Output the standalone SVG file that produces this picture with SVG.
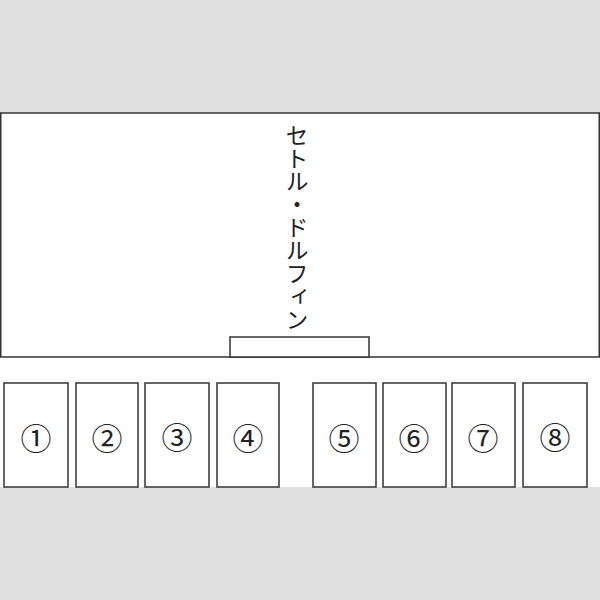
<svg xmlns="http://www.w3.org/2000/svg" width="600" height="600" viewBox="0 0 600 600">
<style>
.box{fill:#fff;stroke:#333;stroke-width:1.5}
.num{font-family:"Noto Sans CJK JP","Liberation Sans",sans-serif;font-size:31px;fill:#222;text-anchor:middle;dominant-baseline:central}
.title{font-family:"Noto Sans CJK JP",sans-serif;font-size:23px;fill:#222;writing-mode:vertical-rl}
</style>
<rect x="0" y="0" width="600" height="600" fill="#e0e0e0"/>
<rect x="0" y="357" width="600" height="130" fill="#fff"/>
<g id="main">
<rect class="box" x="0.75" y="113" width="598.5" height="244"/>
<text class="title" x="297" y="124">セトル・ドルフィン</text>
</g>
<g id="tab"><rect class="box" x="230" y="337" width="139" height="20"/></g>
<g id="connectors"/>
<g id="n1"><rect class="box" x="4" y="383" width="64" height="104"/><text class="num" x="36" y="436">①</text></g>
<g id="n2"><rect class="box" x="76" y="383" width="62" height="104"/><text class="num" x="107" y="436">②</text></g>
<g id="n3"><rect class="box" x="145" y="383" width="64" height="104"/><text class="num" x="177" y="435">③</text></g>
<g id="n4"><rect class="box" x="217" y="383" width="62" height="104"/><text class="num" x="248" y="436">④</text></g>
<g id="n5"><rect class="box" x="313" y="383" width="63" height="104"/><text class="num" x="344" y="436">⑤</text></g>
<g id="n6"><rect class="box" x="383" y="383" width="63" height="104"/><text class="num" x="414" y="436">⑥</text></g>
<g id="n7"><rect class="box" x="452" y="383" width="63" height="104"/><text class="num" x="483" y="436">⑦</text></g>
<g id="n8"><rect class="box" x="523" y="383" width="64" height="104"/><text class="num" x="555" y="435">⑧</text></g>
</svg>
